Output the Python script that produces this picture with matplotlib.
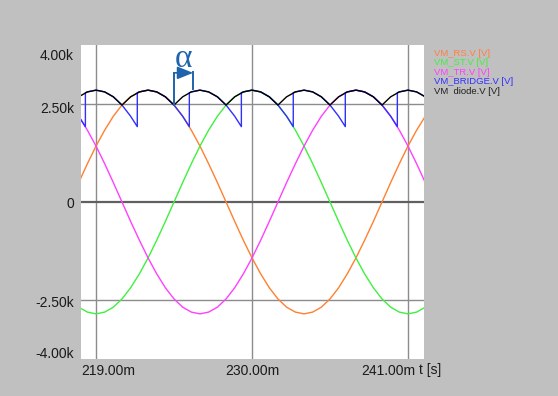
import matplotlib
matplotlib.use('Agg')
import matplotlib.pyplot as plt
import matplotlib.transforms as mtransforms

plt.rcParams['font.family'] = ['Liberation Sans', 'DejaVu Sans']

# sample times in ms
t = [217.17, 217.78, 218.39, 219.00, 219.61, 220.22, 220.83, 221.44, 222.06, 222.67,
     223.28, 223.89, 224.50, 225.11, 225.72, 226.33, 226.94, 227.56, 228.17, 228.78,
     229.39, 230.00, 230.61, 231.22, 231.83, 232.44, 233.06, 233.67, 234.28, 234.89,
     235.50, 236.11, 236.72, 237.33, 237.94, 238.56, 239.17, 239.78, 240.39, 241.00,
     241.61, 242.22, 242.83]

# line voltages in V
vm_rs = [0, 495, 975, 1425, 1830, 2185, 2470, 2680, 2805, 2850, 2805, 2680, 2470, 2185,
         1830, 1425, 975, 495, 0, -495, -975, -1425, -1830, -2185, -2470, -2680, -2805,
         -2850, -2805, -2680, -2470, -2185, -1830, -1425, -975, -495, 0, 495, 975, 1425,
         1830, 2185, 2470]
vm_st = [-2470, -2680, -2805, -2850, -2805, -2680, -2470, -2185, -1830, -1425, -975, -495,
         0, 495, 975, 1425, 1830, 2185, 2470, 2680, 2805, 2850, 2805, 2680, 2470, 2185,
         1830, 1425, 975, 495, 0, -495, -975, -1425, -1830, -2185, -2470, -2680, -2805,
         -2850, -2805, -2680, -2470]
vm_tr = [2470, 2185, 1830, 1425, 975, 495, 0, -495, -975, -1425, -1830, -2185, -2470,
         -2680, -2805, -2850, -2805, -2680, -2470, -2185, -1830, -1425, -975, -495, 0,
         495, 975, 1425, 1830, 2185, 2470, 2680, 2805, 2850, 2805, 2680, 2470, 2185, 1830,
         1425, 975, 495, 0]
vm_diode = [2470, 2680, 2805, 2850, 2805, 2680] * 7 + [2470]

# bridge output (thyristor, delayed by alpha)
t_bridge = [217.17, 217.78, 218.25, 218.25, 218.39, 219.00, 219.61, 220.22,
            220.83, 221.44, 221.91, 221.91, 222.06, 222.67, 223.28, 223.89,
            224.50, 225.11, 225.58, 225.58, 225.72, 226.33, 226.94, 227.56,
            228.17, 228.78, 229.25, 229.25, 229.39, 230.00, 230.61, 231.22,
            231.83, 232.44, 232.91, 232.91, 233.06, 233.67, 234.28, 234.89,
            235.50, 236.11, 236.58, 236.58, 236.72, 237.33, 237.94, 238.56,
            239.17, 239.78, 240.25, 240.25, 240.39, 241.00, 241.61, 242.22,
            242.83]
vm_bridge = [2470, 2185, 1920, 2785, 2805, 2850, 2805, 2680] * 7 + [2470]

x_ticks = [219, 230, 241]
x_labels = ['219.00m', '230.00m', '241.00m']
y_ticks = [-4000, -2500, 0, 2500, 4000]
y_labels = ['-4.00k', '-2.50k', '0', '2.50k', '4.00k']

names = ['VM_RS.V [V]', 'VM_ST.V [V]', 'VM_TR.V [V]', 'VM_BRIDGE.V [V]', 'VM  diode.V [V]']
colors = ['#ff8030', '#40f040', '#ff40ff', '#3030ff', '#000000']
text_colors = ['#ff8040', '#40f040', '#ff40ff', '#3030ff', '#202020']

bg = '#c0c0c0'
fig = plt.figure(figsize=(5.58, 3.96), dpi=100, facecolor=bg)
ax = fig.add_axes([81 / 558, 37 / 396, 343 / 558, 314 / 396])
ax.set_facecolor('white')

# grid
for x in x_ticks:
    ax.axvline(x, color='#8c8c8c', lw=1.0, zorder=1)
for y in [-2500, 2500]:
    ax.axhline(y, color='#8c8c8c', lw=1.0, zorder=1)
ax.axhline(0, color='#606060', lw=1.6, zorder=1)

ax.plot(t, vm_rs, color=colors[0], lw=1.0, zorder=2)
ax.plot(t, vm_st, color=colors[1], lw=1.0, zorder=2)
ax.plot(t, vm_tr, color=colors[2], lw=1.0, zorder=2)
ax.plot(t_bridge, vm_bridge, color=colors[3], lw=1.0, zorder=3)
ax.plot(t, vm_diode, color=colors[4], lw=1.0, zorder=4)

ax.set_xlim(217.94, 242.13)
ax.set_ylim(-4000, 4000)
for s in ax.spines.values():
    s.set_visible(False)

ax.set_xticks(x_ticks)
ax.set_xticklabels(x_labels, fontsize=10, color='#1a1a1a')
ax.set_yticks(y_ticks)
ax.set_yticklabels(y_labels, fontsize=10, color='#1a1a1a')
ax.tick_params(axis='x', length=0, pad=3.5)
ax.tick_params(axis='y', length=0, pad=5)

# shift edge tick labels inward like the original
xl = ax.get_xticklabels()
xl[0].set_ha('left')
xl[0].set_transform(xl[0].get_transform() + mtransforms.ScaledTranslation(-15 / 100, 0, fig.dpi_scale_trans))
xl[2].set_ha('right')
xl[2].set_transform(xl[2].get_transform() + mtransforms.ScaledTranslation(7 / 100, 0, fig.dpi_scale_trans))
yl = ax.get_yticklabels()
y_shift = [7, -1, -1, -4, -10]
for lab, d in zip(yl, y_shift):
    lab.set_transform(lab.get_transform() + mtransforms.ScaledTranslation(0, d / 100, fig.dpi_scale_trans))

fig.text(419 / 558, 1 - 370 / 396, 't [s]', fontsize=10, color='#1a1a1a', va='center', ha='left')

# legend as coloured text
for i, (name, c) in enumerate(zip(names, text_colors)):
    fig.text(434 / 558, 1 - (53 + 9.6 * i) / 396, name, fontsize=6.8, color=c, va='center', ha='left')

# alpha marker
acol = '#1f63ad'
ax.plot([224.5, 224.5], [2470, 3290], color=acol, lw=1.4, zorder=5)
ax.plot([225.85, 225.85], [2880, 3310], color=acol, lw=1.4, zorder=5)
ax.annotate('', xy=(225.85, 3290), xytext=(224.5, 3290),
            arrowprops=dict(arrowstyle='-|>,head_length=0.8,head_width=0.32', color=acol,
                            lw=1.2, mutation_scale=12, shrinkA=0, shrinkB=0), zorder=5)
ax.text(225.2, 3640, 'α', fontsize=24, color=acol, ha='center', va='center',
        family=['Liberation Serif', 'DejaVu Serif'], zorder=5)

fig.savefig('out.png', dpi=100, facecolor=bg)
